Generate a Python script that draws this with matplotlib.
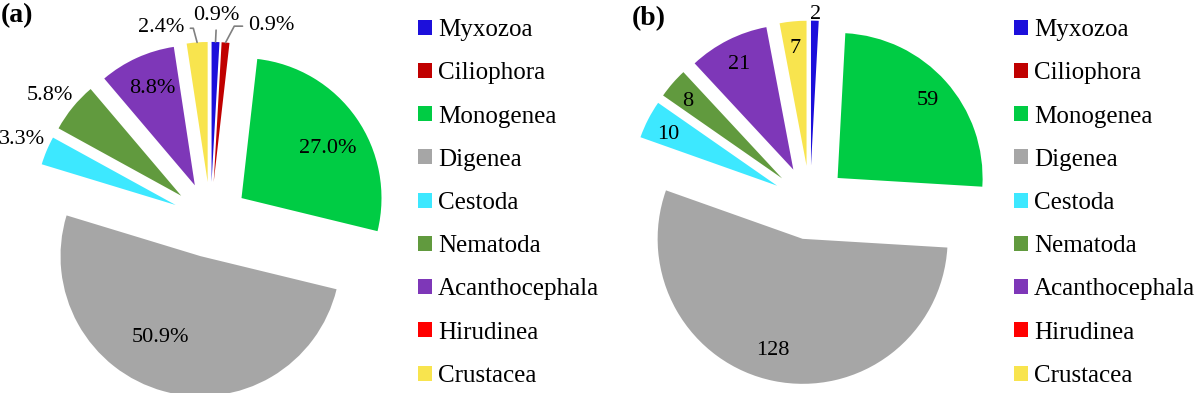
import numpy as np
import matplotlib
matplotlib.use('Agg')
import matplotlib.pyplot as plt

plt.rcParams['font.family'] = ['Liberation Serif', 'DejaVu Serif']

# groups, shared by both pies
groups = ['Myxozoa', 'Ciliophora', 'Monogenea', 'Digenea', 'Cestoda',
          'Nematoda', 'Acanthocephala', 'Hirudinea', 'Crustacea']
colors = ['#1C0FDB', '#C00000', '#00CC44', '#A6A6A6', '#3DE8FF',
          '#619A3E', '#7E37B8', '#FF0000', '#F8E44E']

# (a) percentages
pct_a = [0.9, 0.9, 27.0, 50.9, 3.3, 5.8, 8.8, 0.0, 2.4]
# (b) counts
cnt_b = [2, 0, 59, 128, 10, 8, 21, 0, 7]

W, H = 1200, 393
fig = plt.figure(figsize=(W / 100, H / 100), dpi=100)


def make_ax(left_px, width_px, cx, cy, r):
    # axes placed in pixels, scaled so that 1 data unit == r pixels
    ax = fig.add_axes([left_px / W, 0, width_px / W, 1])
    ylow = -(H - cy) / r
    return ax, ((left_px - cx) / r, (left_px + width_px - cx) / r), (ylow, ylow + H / r)


def draw_pie(ax, lims, vals, expl):
    wedges, _ = ax.pie(vals, colors=colors, startangle=90, counterclock=False,
                       explode=[expl] * len(vals),
                       wedgeprops=dict(linewidth=0))
    ax.set_aspect('auto')
    ax.set_xlim(*lims[0])
    ax.set_ylim(*lims[1])
    ax.axis('off')
    return wedges


def unit(deg):
    t = np.deg2rad(deg)
    return np.array([np.cos(t), np.sin(t)])


# ---- (a) ----
expl_a = 0.27
ax_a, xl, yl = make_ax(0, 410, 210.5, 219.7, 140)
w_a = draw_pie(ax_a, (xl, yl), pct_a, expl_a)

# label placement: (distance from wedge apex, angle shift in degrees)
place_a = {0: (1.21, 0), 1: (1.21, -15), 2: (0.72, -4), 3: (0.63, -12),
           4: (1.20, -1), 5: (1.19, 1), 6: (0.77, -1), 8: (1.17, 12)}
leaders = {0: dict(relpos=(0.5, 0), connectionstyle='arc3'),
           1: dict(relpos=(0, 0.45), connectionstyle='angle,angleA=180,angleB=62,rad=0'),
           8: dict(relpos=(1, 0.45), connectionstyle='angle,angleA=0,angleB=105,rad=0')}
for i, w in enumerate(w_a):
    if pct_a[i] == 0:
        continue
    mid = (w.theta1 + w.theta2) / 2
    d, sh = place_a[i]
    pos = expl_a * unit(mid) + d * unit(mid + sh)
    txt = f'{pct_a[i]:.1f}%'
    if i in leaders:
        tip = (expl_a + 1.0) * unit(mid)
        ax_a.annotate(txt, xy=tip, xytext=pos, ha='center', va='center_baseline', fontsize=16,
                      arrowprops=dict(arrowstyle='-', color='#808080', lw=1.2,
                                      shrinkA=2, shrinkB=0, **leaders[i]))
    else:
        ax_a.text(pos[0], pos[1], txt, ha='center', va='center_baseline', fontsize=16)

# ---- (b) ----
expl_b = 0.255
ax_b, xl, yl = make_ax(600, 410, 810, 202.6, 145)
w_b = draw_pie(ax_b, (xl, yl), cnt_b, expl_b)
place_b = {0: (1.06, 0), 2: (0.83, 0), 3: (0.78, -4), 4: (0.84, 1),
           5: (0.85, 1), 6: (0.83, 0), 8: (0.83, 0)}
for i, w in enumerate(w_b):
    if cnt_b[i] == 0:
        continue
    mid = (w.theta1 + w.theta2) / 2
    d, sh = place_b[i]
    pos = expl_b * unit(mid) + d * unit(mid + sh)
    ax_b.text(pos[0], pos[1], str(cnt_b[i]), ha='center', va='center_baseline', fontsize=16)

# legends
for x0, wed in [(418, w_a), (1014, w_b)]:
    fig.legend(wed, groups, loc='upper left', bbox_to_anchor=(x0 / W, 1 - 19 / H),
               frameon=False, fontsize=18, handlelength=0.55, handleheight=0.55,
               handletextpad=0.25, labelspacing=0.85, borderpad=0, borderaxespad=0)

fig.text(0.5 / W, 1 - 16 / H, '(a)', fontsize=20, fontweight='bold', va='center', ha='left')
fig.text(632 / W, 1 - 19 / H, '(b)', fontsize=20, fontweight='bold', va='center', ha='left')

fig.savefig('out.png', dpi=100)
